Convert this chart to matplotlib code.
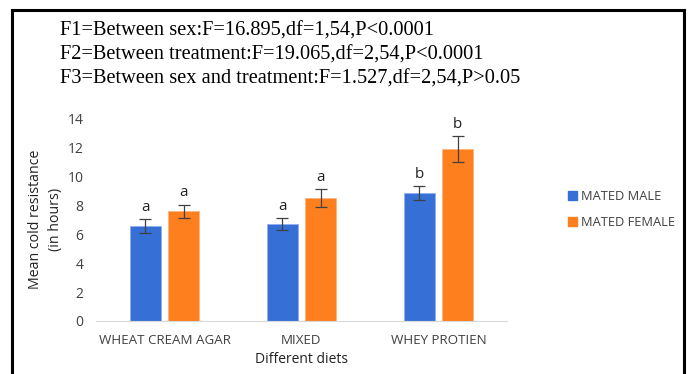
import matplotlib
matplotlib.use("Agg")
import matplotlib.pyplot as plt
import numpy as np
from matplotlib.lines import Line2D
from matplotlib.patches import Rectangle

diets = ["WHEAT CREAM AGAR", "MIXED", "WHEY PROTIEN"]
series_names = ["MATED MALE", "MATED FEMALE"]
male_mean = [6.55, 6.67, 8.86]
male_err = [0.48, 0.41, 0.47]
female_mean = [7.58, 8.49, 11.86]
female_err = [0.46, 0.61, 0.90]
male_letters = ["a", "a", "b"]
female_letters = ["a", "a", "b"]
yticks = [0, 2, 4, 6, 8, 10, 12, 14]
stats_lines = [
    "F1=Between sex:F=16.895,df=1,54,P<0.0001",
    "F2=Between treatment:F=19.065,df=2,54,P<0.0001",
    "F3=Between sex and treatment:F=1.527,df=2,54,P>0.05",
]

blue = "#3670d6"
orange = "#fe7f1e"
sans = ["Open Sans", "DejaVu Sans"]
W, H = 688, 374

fig = plt.figure(figsize=(W / 100, H / 100), dpi=100)
fig.patch.set_facecolor("white")

ax = fig.add_axes([96 / W, 1 - 321 / H, (507 - 96) / W, (321 - 118.3) / H])

x = np.arange(len(diets))
bw = 0.227
off = 0.141
ekw = dict(ecolor="#404040", elinewidth=0.9, capsize=4, capthick=0.9)
ax.bar(x - off, male_mean, bw, color=blue, edgecolor="#8fb0ee", linewidth=0.6,
       yerr=male_err, error_kw=ekw)
ax.bar(x + off, female_mean, bw, color=orange, edgecolor="#ffb37a", linewidth=0.6,
       yerr=female_err, error_kw=ekw)

for xi, m, e, s in zip(x - off, male_mean, male_err, male_letters):
    ax.annotate(s, (xi, m + e), xytext=(0, 3), textcoords="offset points",
                ha="center", va="bottom", fontsize=11, family=sans, color="#222222")
for xi, m, e, s in zip(x + off, female_mean, female_err, female_letters):
    ax.annotate(s, (xi, m + e), xytext=(0, 3), textcoords="offset points",
                ha="center", va="bottom", fontsize=11, family=sans, color="#222222")

ax.set_xlim(-0.5, 2.5)
ax.set_ylim(0, 14)
ax.set_yticks(yticks)
ax.set_yticklabels([str(t) for t in yticks], family=sans, fontsize=10, color="#404040")
ax.set_xticks(x)
ax.set_xticklabels(diets, family=sans, fontsize=9.6, color="#404040")
ax.tick_params(axis="both", length=0)
ax.tick_params(axis="y", pad=9)
ax.tick_params(axis="x", pad=9)
for side in ["top", "right", "left"]:
    ax.spines[side].set_visible(False)
ax.spines["bottom"].set_color("#d9d9d9")
ax.spines["bottom"].set_linewidth(0.8)
ax.set_facecolor("none")

ax.set_xlabel("Different diets", family=sans, fontsize=10, color="#222222", labelpad=4)
ax.set_ylabel("Mean cold resistance\n(in hours)", family=sans, fontsize=10.2,
              color="#222222", labelpad=3, linespacing=1.45)

handles = [Rectangle((0, 0), 1, 1, color=blue), Rectangle((0, 0), 1, 1, color=orange)]
fig.legend(handles, series_names, loc="upper left", bbox_to_anchor=(556 / W, 1 - 178 / H),
           frameon=False, prop=dict(family=sans, size=9.3), handlelength=0.7, handleheight=0.7,
           handletextpad=0.3, labelspacing=1.0, labelcolor="#404040")

for i, line in enumerate(stats_lines):
    fig.text(60 / W, 1 - (31 + 24 * i) / H, line, family="Liberation Serif", fontsize=14.7,
             ha="left", va="center", color="black")

# outer frame: left, top, right
frame_kw = dict(color="black", linewidth=2.2, transform=fig.transFigure)
fig.add_artist(Line2D([12 / W, 12 / W], [0, 1 - 10 / H], **frame_kw))
fig.add_artist(Line2D([12 / W, 684 / W], [1 - 10 / H, 1 - 10 / H], **frame_kw))
fig.add_artist(Line2D([684 / W, 684 / W], [0, 1 - 10 / H], **frame_kw))

fig.savefig("out.png", dpi=100)
